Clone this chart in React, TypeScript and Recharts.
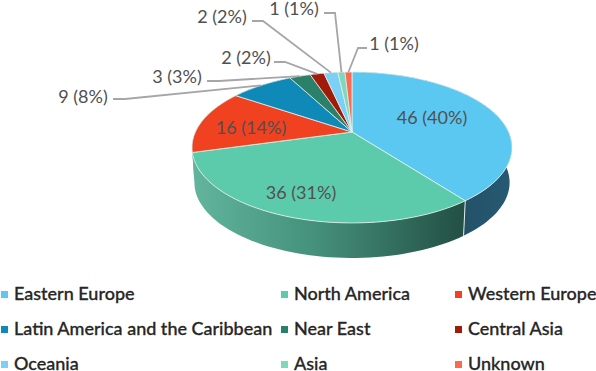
import React from 'react'
import { PieChart, Pie, Legend } from 'recharts'

const REGIONS = [
  'Eastern Europe',
  'North America',
  'Western Europe',
  'Latin America and the Caribbean',
  'Near East',
  'Central Asia',
  'Oceania',
  'Asia',
  'Unknown'
]
const COUNTS = [46, 36, 16, 9, 3, 2, 2, 1, 1]
const COLORS = ['#5BC8F1', '#5CCBAC', '#F04120', '#0F8AB8', '#2A8068', '#A01C08', '#7DD0F5', '#7DD8BE', '#FA6A50']

const rows = REGIONS.map((name, i) => ({ name, value: COUNTS[i], fill: COLORS[i] }))

const FONT = 'Lato, sans-serif'

// perspective of the tilted disc
const TILT = 0.4617
const PERSPECTIVE = 0.205
const DEPTH = 35
const BOTTOM_SCALE = 0.985

const project = (cx: number, cy: number, r: number, angle: number) => {
  const rad = (angle * Math.PI) / 180
  const u = Math.cos(rad)
  const v = -Math.sin(rad)
  const w = 1 - PERSPECTIVE * v
  return { x: cx + (r * u) / w, y: cy + (r * TILT * v) / w }
}

const arcPoints = (cx: number, cy: number, r: number, from: number, to: number) => {
  const steps = Math.max(2, Math.ceil(Math.abs(from - to) / 2))
  const pts = []
  for (let i = 0; i <= steps; i++) {
    pts.push(project(cx, cy, r, from + ((to - from) * i) / steps))
  }
  return pts
}

const toBottom = (cx: number, p: { x: number; y: number }) => ({
  x: cx + (p.x - cx) * BOTTOM_SCALE,
  y: p.y + DEPTH
})

const pathOf = (pts: { x: number; y: number }[]) =>
  pts.map((p, i) => `${i ? 'L' : 'M'}${p.x.toFixed(2)},${p.y.toFixed(2)}`).join(' ') + ' Z'

const SIDE_FILLS = ['url(#sideBlue)', 'url(#sideGreen)', 'url(#sideGreen)', '#0A5F80', '#1C5848', '#6E1305', '#5690AA', '#569683', '#AD4937']

const SideShape = (props: any) => {
  const { cx, cy, outerRadius, startAngle, endAngle, index } = props
  const top = arcPoints(cx, cy, outerRadius, startAngle, endAngle)
  const bottom = top.map((p) => toBottom(cx, p)).reverse()
  const edge = top[0]
  const edgeLow = toBottom(cx, edge)
  return (
    <g>
      <path d={pathOf([...top, ...bottom])} fill={SIDE_FILLS[index]} />
      {index === 1 && <line x1={edge.x} y1={edge.y} x2={edgeLow.x} y2={edgeLow.y} stroke="#DCEBE8" strokeWidth={1} />}
    </g>
  )
}

const TopShape = (props: any) => {
  const { cx, cy, outerRadius, startAngle, endAngle, fill } = props
  const arc = arcPoints(cx, cy, outerRadius, startAngle, endAngle)
  return <path d={pathOf([{ x: cx, y: cy }, ...arc])} fill={fill} stroke="#E4F1EE" strokeWidth={0.8} strokeLinejoin="round" />
}

// where each value label sits, with its leader elbow for the small slices
const LABEL_SPOTS = [
  { x: 432, y: 117 },
  { x: 301, y: 192 },
  { x: 251, y: 127 },
  { x: 83, y: 96, from: [113, 99], elbow: [125, 99] },
  { x: 177, y: 76, from: [207, 81], elbow: [219, 81] },
  { x: 246, y: 57, from: [274, 62], elbow: [285, 62] },
  { x: 222, y: 16, from: [252, 21], elbow: [263, 21] },
  { x: 294, y: 8, from: [324, 13], elbow: [335, 13] },
  { x: 394, y: 43, from: [367, 48], elbow: [358, 48] }
]

const renderLabel = (props: any) => {
  const { cx, cy, outerRadius, midAngle, index, value, percent } = props
  const spot = LABEL_SPOTS[index]
  const tip = project(cx, cy, outerRadius, midAngle)
  return (
    <g key={index}>
      {spot.from && (
        <polyline
          points={`${spot.from[0]},${spot.from[1]} ${spot.elbow[0]},${spot.elbow[1]} ${tip.x},${tip.y}`}
          fill="none"
          stroke="#A6A6A6"
          strokeWidth={1.8}
        />
      )}
      <text x={spot.x} y={spot.y} textAnchor="middle" dominantBaseline="central" fontFamily={FONT} fontSize={18} fill="#505050">
        {`${value} (${Math.round(percent * 100)}%)`}
      </text>
    </g>
  )
}

const LEGEND_COLUMNS = [1, 281, 455]
const LEGEND_ROWS = [293, 328, 363]

// the two stacked pies would double the payload, so list the rows directly
const renderLegend = () => (
  <div style={{ position: 'relative', width: 596, height: 371 }}>
    {rows.map((item, i) => {
      const left = LEGEND_COLUMNS[i % 3]
      const top = LEGEND_ROWS[Math.floor(i / 3)]
      return (
        <div key={item.name} style={{ position: 'absolute', left, top: top - 12, height: 24, display: 'flex', alignItems: 'center', whiteSpace: 'nowrap' }}>
          <span style={{ width: 7, height: 7, background: item.fill, marginRight: 6, marginTop: 2 }} />
          <span style={{ fontFamily: FONT, fontSize: 18, fontWeight: 500, color: '#262626', WebkitTextStroke: '0.3px #262626' }}>{item.name}</span>
        </div>
      )
    })}
  </div>
)

export default function App() {
  return (
    <div style={{ position: 'absolute', left: 0, top: 0, width: 596, height: 371, background: '#fff' }}>
      <PieChart width={596} height={371} margin={{ top: 0, right: 0, bottom: 0, left: 0 }}>
        <defs>
          <linearGradient id="sideGreen" gradientUnits="userSpaceOnUse" x1={192} y1={0} x2={463} y2={0}>
            <stop offset="0%" stopColor="#62B59D" />
            <stop offset="45%" stopColor="#45917B" />
            <stop offset="100%" stopColor="#235044" />
          </linearGradient>
          <linearGradient id="sideBlue" gradientUnits="userSpaceOnUse" x1={463} y1={0} x2={512} y2={0}>
            <stop offset="0%" stopColor="#235168" />
            <stop offset="100%" stopColor="#265A73" />
          </linearGradient>
        </defs>
        <Pie
          data={rows}
          dataKey="value"
          nameKey="name"
          cx={352}
          cy={132}
          outerRadius={156.6}
          startAngle={90}
          endAngle={-270}
          paddingAngle={0}
          stroke="none"
          shape={SideShape}
          legendType="none"
          isAnimationActive={false}
        />
        <Pie
          data={rows}
          dataKey="value"
          nameKey="name"
          cx={352}
          cy={132}
          outerRadius={156.6}
          startAngle={90}
          endAngle={-270}
          paddingAngle={0}
          stroke="none"
          shape={TopShape}
          label={renderLabel}
          labelLine={false}
          isAnimationActive={false}
        />
        <Legend content={renderLegend} wrapperStyle={{ position: 'absolute', left: 0, top: 0, width: 596, height: 371, pointerEvents: 'none' }} />
      </PieChart>
    </div>
  )
}
